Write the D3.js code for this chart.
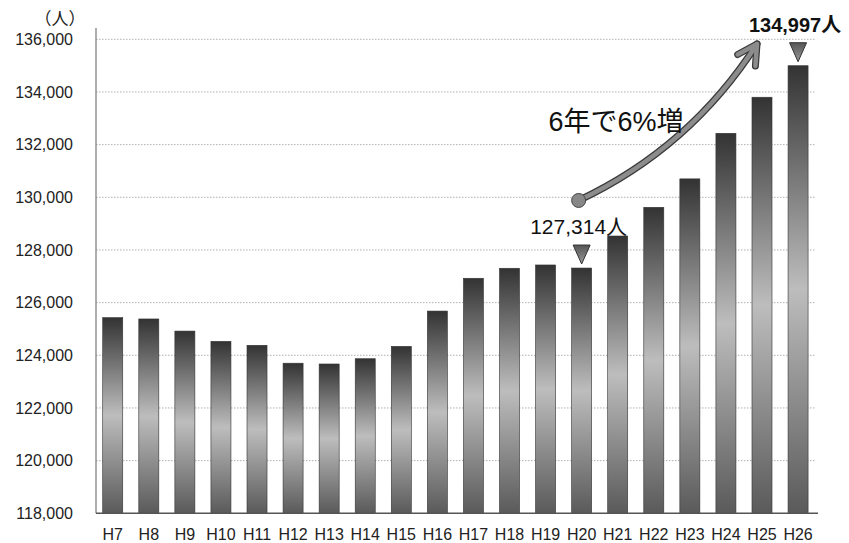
<!DOCTYPE html>
<html>
<head>
<meta charset="utf-8">
<script src="https://cdn.jsdelivr.net/npm/d3@7"></script>
<style>
  html, body { margin: 0; padding: 0; background: #fff; }
  svg { display: block; }
  text { font-family: "Liberation Sans", Arial, "Noto Sans CJK JP", sans-serif; }
</style>
</head>
<body>
<svg id="chart" width="849" height="543"></svg>
<script>
// Population by fiscal year (Heisei)
const categories = ["H7","H8","H9","H10","H11","H12","H13","H14","H15","H16",
                    "H17","H18","H19","H20","H21","H22","H23","H24","H25","H26"];
const population = [125430,125380,124920,124530,124380,123700,123670,123870,124340,125680,
                    126925,127305,127430,127314,128530,129620,130700,132430,133800,134997];
const yTicks = [118000,120000,122000,124000,126000,128000,130000,132000,134000,136000];
const unitLabel = "（人）";
const growthLabel = "6年で6%増";
const startCat = "H20";
const endCat = "H26";

const svg = d3.select("#chart");
const fmt = d3.format(",");

const y = d3.scaleLinear().domain([118000, 136000]).range([513.3, 39.3]);
const x = d3.scaleBand().domain(categories).range([94.7, 816.1])
  .paddingInner(0.445).paddingOuter(0.2225);
const xc = c => x(c) + x.bandwidth() / 2;

// bar shading
const defs = svg.append("defs");
const grad = defs.append("linearGradient").attr("id", "barGrad")
  .attr("x1", 0).attr("y1", 0).attr("x2", 0).attr("y2", 1);
grad.append("stop").attr("offset", "0%").attr("stop-color", "#333");
grad.append("stop").attr("offset", "50%").attr("stop-color", "#bdbdbd");
grad.append("stop").attr("offset", "100%").attr("stop-color", "#5a5a5a");

const triGrad = defs.append("linearGradient").attr("id", "triGrad")
  .attr("x1", 0).attr("y1", 0).attr("x2", 0).attr("y2", 1);
triGrad.append("stop").attr("offset", "0%").attr("stop-color", "#555");
triGrad.append("stop").attr("offset", "100%").attr("stop-color", "#999");

// gridlines
svg.append("g")
  .selectAll("line")
  .data(yTicks.filter(t => t > 118000))
  .join("line")
  .attr("x1", 96).attr("x2", 816)
  .attr("y1", d => y(d)).attr("y2", d => y(d))
  .attr("stroke", "#b0b0b0").attr("stroke-width", 1)
  .attr("stroke-dasharray", "1.5,1.5");

// y axis
const yAxis = d3.axisLeft(y).tickValues(yTicks).tickFormat(fmt).tickSize(0).tickPadding(23);
const gy = svg.append("g").attr("transform", "translate(96,0)").call(yAxis);
gy.select(".domain").remove();
gy.selectAll("text").attr("font-size", 16).attr("fill", "#222")
  .attr("font-family", "'Liberation Sans', Arial, sans-serif");
svg.append("line").attr("x1", 96).attr("x2", 96).attr("y1", 28).attr("y2", y(118000))
  .attr("stroke", "#777").attr("stroke-width", 1.2);

// unit label
svg.append("text").attr("x", 60).attr("y", 25).attr("text-anchor", "middle")
  .attr("font-size", 17).attr("fill", "#222").text(unitLabel);

// bars
svg.append("g")
  .selectAll("rect")
  .data(categories.map((c, i) => ({ c, v: population[i] })))
  .join("rect")
  .attr("x", d => x(d.c))
  .attr("width", x.bandwidth())
  .attr("y", d => y(d.v))
  .attr("height", d => y(118000) - y(d.v))
  .attr("fill", "url(#barGrad)")
  .attr("stroke", "#333").attr("stroke-width", 0.6);

// x axis
const xAxis = d3.axisBottom(x).tickSize(0).tickPadding(15);
const gx = svg.append("g").attr("transform", `translate(0,${y(118000)})`).call(xAxis);
gx.select(".domain").remove();
gx.selectAll("text").attr("font-size", 16).attr("fill", "#222")
  .attr("font-family", "'Liberation Sans', Arial, sans-serif");
svg.append("line").attr("x1", 96).attr("x2", 818)
  .attr("y1", y(118000)).attr("y2", y(118000))
  .attr("stroke", "#555").attr("stroke-width", 1.5);

// value callouts
function callout(cat, bold) {
  const v = population[categories.indexOf(cat)];
  const cx = xc(cat), top = y(v);
  const tipY = top - 4;
  svg.append("path")
    .attr("d", `M${cx - 8.5},${tipY - 19} L${cx + 8.5},${tipY - 19} L${cx},${tipY} Z`)
    .attr("fill", "url(#triGrad)").attr("stroke", "#333").attr("stroke-width", 1);
  svg.append("text")
    .attr("x", cx - 3).attr("y", top - 34)
    .attr("text-anchor", "middle")
    .attr("font-size", bold ? 20 : 21)
    .attr("font-weight", bold ? "bold" : "normal")
    .attr("fill", "#111")
    .text(fmt(v) + "人");
}
callout(startCat, false);
callout(endCat, true);

// growth arrow
const p0 = [xc(startCat) - 3, y(129880)];
const p1 = [690, 148];
const p2 = [757, 44];
const curve = `M${p0[0]},${p0[1]} Q${p1[0]},${p1[1]} ${p2[0]},${p2[1]}`;
const ang = Math.atan2(p2[1] - p1[1], p2[0] - p1[0]);
const wing = 22, spread = 0.5;
const w1 = [p2[0] - wing * Math.cos(ang - spread), p2[1] - wing * Math.sin(ang - spread)];
const w2 = [p2[0] - wing * Math.cos(ang + spread), p2[1] - wing * Math.sin(ang + spread)];
const head = `M${w1[0]},${w1[1]} L${p2[0]},${p2[1]} L${w2[0]},${w2[1]}`;
const arrow = svg.append("g").attr("fill", "none").attr("stroke-linecap", "round").attr("stroke-linejoin", "round");
[curve, head].forEach(d => {
  arrow.append("path").attr("d", d).attr("stroke", "#3a3a3a").attr("stroke-width", 7);
});
[curve, head].forEach(d => {
  arrow.append("path").attr("d", d).attr("stroke", "#8c8c8c").attr("stroke-width", 4.5);
});
svg.append("circle").attr("cx", p0[0]).attr("cy", p0[1]).attr("r", 7)
  .attr("fill", "#888").attr("stroke", "#444").attr("stroke-width", 1);

svg.append("text").attr("x", 616).attr("y", 131).attr("text-anchor", "middle")
  .attr("font-size", 27).attr("fill", "#111")
  .attr("font-family", "'Liberation Sans', 'Noto Sans CJK JP', sans-serif")
  .text(growthLabel);
</script>
</body>
</html>
